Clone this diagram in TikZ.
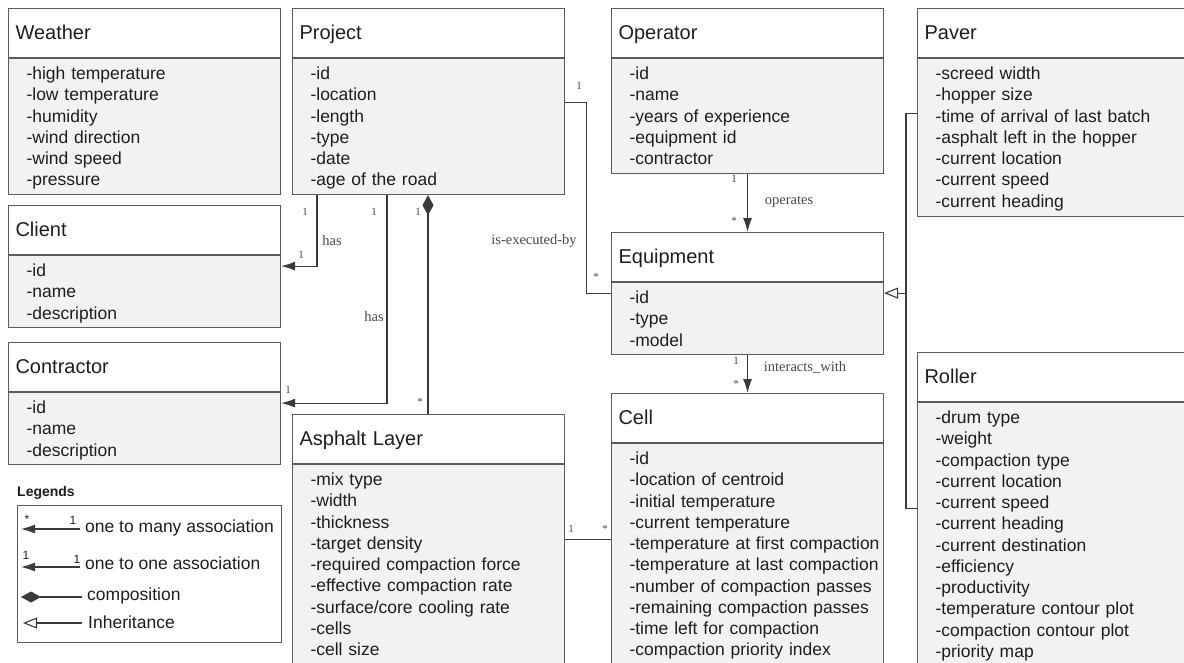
\documentclass[tikz,border=0pt]{standalone}
\usepackage{fontspec}
\setmainfont{Liberation Sans}
\newfontfamily\linkfont{Liberation Serif}
\usetikzlibrary{arrows.meta,positioning}
\definecolor{umlInk}{HTML}{1E1E1E}
\definecolor{umlLine}{HTML}{5C5C5C}
\definecolor{umlWire}{HTML}{3A3A3A}
\definecolor{umlFill}{HTML}{F1F2F4}
\definecolor{umlLabel}{HTML}{4A4A4A}

\begin{document}
\begin{tikzpicture}[x=1pt,y=-1pt,>=Latex,line join=miter]
\useasboundingbox (0,0) rectangle (1184,662);
\clip (0,0) rectangle (1184,662);
\path[fill=white] (0,0) rectangle (1184,662);
\tikzset{classhead/.style={draw=umlLine,fill=white,line width=1.1pt,anchor=north west,inner xsep=7pt,inner ysep=0pt,text width=258pt,align=left,text height=31pt,text depth=18pt,text=umlInk,font=\fontsize{20}{24}\selectfont},
  classbody/.style={draw=umlLine,fill=umlFill,line width=1.1pt,anchor=north west,inner xsep=0pt,inner ysep=0pt,text width=272pt,align=left,text height=21pt,text=umlInk,font=\fontsize{17.5}{21.25}\selectfont,execute at begin node={\leftskip=18pt}},
  link/.style={draw=umlWire,line width=1.1pt},
  assoc/.style={link,-{Latex[length=14pt,width=9pt]}},
  compose/.style={link,-{Diamond[length=20pt,width=11pt]}},
  inherit/.style={link,-{Triangle[open,length=14pt,width=11pt]}},
  mult/.style={font=\linkfont\fontsize{11}{13}\selectfont,text=umlLabel,inner sep=0pt},
  role/.style={font=\linkfont\fontsize{14.5}{17}\selectfont,text=umlLabel,inner sep=0pt},
  keytext/.style={anchor=west,inner sep=0pt,text=umlInk,font=\fontsize{17.5}{21}\selectfont},
  keymult/.style={inner sep=0pt,text=umlInk,font=\fontsize{12}{14}\selectfont}}
% classes, top row
\node[classhead] (weatherHead) at (8,8) {Weather};
\node[classbody,text depth=115pt] (weatherBody) at (weatherHead.south west) {-high temperature\\-low temperature\\-humidity\\-wind direction\\-wind speed\\-pressure};
\node[classhead] (projectHead) at (292,8) {Project};
\node[classbody,text depth=115pt] (projectBody) at (projectHead.south west) {-id\\-location\\-length\\-type\\-date\\-age of the road};
\node[classhead] (operatorHead) at (611,8) {Operator};
\node[classbody,text depth=94pt] (operatorBody) at (operatorHead.south west) {-id\\-name\\-years of experience\\-equipment id\\-contractor};
\node[classhead] (paverHead) at (917,8) {Paver};
\node[classbody,text depth=137pt] (paverBody) at (paverHead.south west) {-screed width\\-hopper size\\-time of arrival of last batch\\-asphalt left in the hopper\\-current location\\-current speed\\-current heading};
% classes, lower rows
\node[classhead] (clientHead) at (8,205) {Client};
\node[classbody,text depth=51pt] (clientBody) at (clientHead.south west) {-id\\-name\\-description};
\node[classhead] (contractorHead) at (8,342) {Contractor};
\node[classbody,text depth=51pt] (contractorBody) at (contractorHead.south west) {-id\\-name\\-description};
\node[classhead] (equipmentHead) at (611,232) {Equipment};
\node[classbody,text depth=51pt] (equipmentBody) at (equipmentHead.south west) {-id\\-type\\-model};
\node[classhead] (asphaltHead) at (292,414) {Asphalt Layer};
\node[classbody,text depth=216pt] (asphaltBody) at (asphaltHead.south west) {-mix type\\-width\\-thickness\\-target density\\-required compaction force\\-effective compaction rate\\-surface/core cooling rate\\-cells\\-cell size};
\node[classhead] (cellHead) at (611,393) {Cell};
\node[classbody,text depth=237pt] (cellBody) at (cellHead.south west) {-id\\-location of centroid\\-initial temperature\\-current temperature\\-temperature at first compaction\\-temperature at last compaction\\-number of compaction passes\\-remaining compaction passes\\-time left for compaction\\-compaction priority index};
\node[classhead] (rollerHead) at (917,352) {Roller};
\node[classbody,text depth=278pt] (rollerBody) at (rollerHead.south west) {-drum type\\-weight\\-compaction type\\-current location\\-current speed\\-current heading\\-current destination\\-efficiency\\-productivity\\-temperature contour plot\\-compaction contour plot\\-priority map};
% associations
\draw[assoc] ([xshift=25pt]projectBody.south west) |- ([yshift=-11pt]clientBody.north east);
\draw[assoc] ([xshift=95pt]projectBody.south west) |- ([yshift=-11pt]contractorBody.north east);
\draw[compose] ([xshift=136pt]asphaltHead.north west) -- ([xshift=136pt]projectBody.south west);
\draw[link] ([yshift=-44pt]projectBody.north east) -- ++(21,0) |- ([yshift=-11pt]equipmentBody.north west);
\draw[assoc] (operatorBody.south) -- (equipmentHead.north);
\draw[assoc] (equipmentBody.south) -- (cellHead.north);
\draw[link] ([yshift=-75pt]asphaltBody.north east) coordinate (layerJoin) -- (layerJoin -| cellBody.west);
% inheritance
\coordinate (equipmentJoin) at ([yshift=-11pt]equipmentBody.north east);
\draw[link] ([yshift=-55pt]paverBody.north west) -- ++(-11,0) coordinate (trunkTop) |- ([yshift=-106pt]rollerBody.north west);
\draw[inherit] (trunkTop |- equipmentJoin) -- (equipmentJoin);
% labels
\node[mult] (mClientA) at (305,212) {1}; \node[role] (hasClient) at (332,241) {has}; \node[mult] (mClientB) at (301,255) {1};
\node[mult] (mContrA) at (374,212) {1}; \node[role] (hasContr) at (374,317) {has}; \node[mult] (mContrB) at (288,390) {1};
\node[mult] (mLayerA) at (418,212) {1}; \node[mult] (mLayerB) at (420,402) {*};
\node[mult] (mExecA) at (579,86) {1}; \node[role] (execBy) at (534,241) {is-executed-by}; \node[mult] (mExecB) at (596,277) {*};
\node[mult] (mOperA) at (734,179) {1}; \node[role] (operates) at (789,202) {operates}; \node[mult] (mOperB) at (734,221) {*};
\node[mult] (mCellA) at (736,361) {1}; \node[role] (interacts) at (805,367) {interacts\_with}; \node[mult] (mCellB) at (736,384) {*};
\node[mult] (mPartA) at (571,529) {1}; \node[mult] (mPartB) at (605,529) {*};
% legend
\node[anchor=west,inner sep=0pt,text=umlInk,font=\bfseries\fontsize{14}{16}\selectfont] (legendTitle) at (17,493) {Legends};
\node[draw=umlLine,line width=1pt,anchor=north west,minimum width=264pt,minimum height=137pt,inner sep=0pt] (legendFrame) at (17,505) {};
\node[keytext] (keyMany) at (85,528) {one to many association};
\node[keytext] (keyOne) at (85,563) {one to one association};
\node[keytext] (keyComp) at (87,596) {composition};
\node[keytext] (keyInh) at (88,622) {Inheritance};
\draw[assoc] ([xshift=-5pt,yshift=-1pt]keyMany.west) -- ++(-59,0);
\draw[assoc] ([xshift=-5pt,yshift=-4pt]keyOne.west) -- ++(-59,0);
\draw[compose] ([xshift=-5pt,yshift=-1pt]keyComp.west) -- ++(-61,0);
\draw[inherit] ([xshift=-6pt,yshift=-1pt]keyInh.west) -- ++(-59,0);
\node[keymult] (kManyA) at (27,519) {*}; \node[keymult] (kManyB) at (73,520) {1};
\node[keymult] (kOneA) at (26,555) {1}; \node[keymult] (kOneB) at (77,559) {1};
\end{tikzpicture}
\end{document}
